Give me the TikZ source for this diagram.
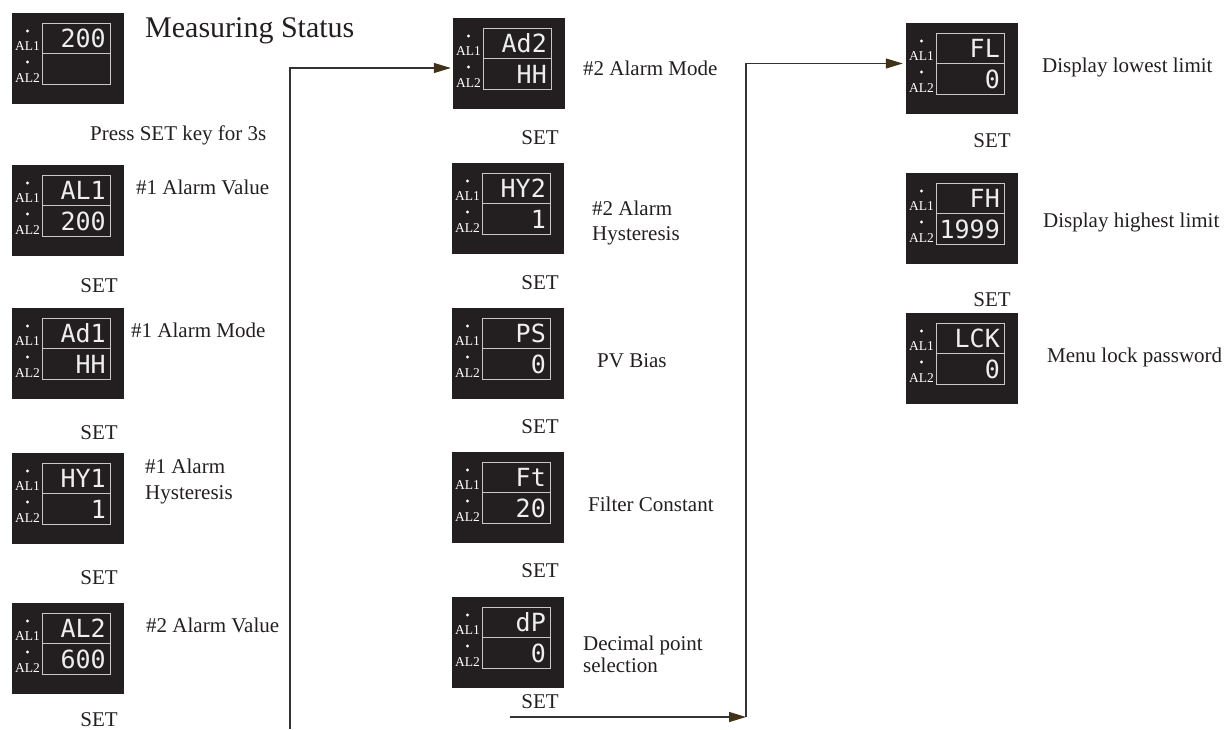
\documentclass[tikz,border=0pt]{standalone}
\usepackage{fontspec}
\setmainfont{Liberation Serif}
\newfontfamily\segfont{DejaVu Sans Mono}
\usetikzlibrary{arrows.meta,calc}
\definecolor{ink}{HTML}{231F20}
\definecolor{lcdbg}{HTML}{231F20}
\definecolor{lcdedge}{HTML}{C8C8C8}
\definecolor{segc}{HTML}{EEEEEE}
\definecolor{arrowc}{HTML}{3F3218}
\definecolor{linec}{HTML}{333333}
\tikzset{
  lcdbody/.style={draw=none,fill=lcdbg,minimum width=112pt,minimum height=91pt,inner sep=0pt},
  lcdframe/.style={draw=lcdedge,line width=0.9pt},
  altext/.style={anchor=base,text=white,inner sep=0pt,font=\fontsize{13.5}{14}\selectfont},
  segtext/.style={anchor=base east,text=segc,inner sep=0pt,font=\segfont\fontsize{25}{25}\selectfont},
  lbl/.style={anchor=base west,text=ink,inner sep=0pt,font=\fontsize{21}{22}\selectfont},
  setlbl/.style={anchor=base,text=ink,inner sep=0pt,font=\fontsize{21}{22}\selectfont},
  conn/.style={draw=linec,line width=1.2pt,-{Triangle[length=17pt,width=10pt,color=arrowc]}},
}
\newcommand\LCDunit[5]{%
  \node[lcdbody] (#1) at (#2+56,#3+45.5) {};
  \draw[lcdframe] (#2+30,#3+10) rectangle (#2+98,#3+71);
  \draw[lcdframe] (#2+30,#3+40.5) -- (#2+98,#3+40.5);
  \fill[white] (#2+15.5,#3+18) circle (1.7pt);
  \fill[white] (#2+15.5,#3+49) circle (1.7pt);
  \node[altext] (#1-a1) at (#2+15.5,#3+37) {AL1};
  \node[altext] (#1-a2) at (#2+15.5,#3+69) {AL2};
  \node[segtext] (#1-t) at (#2+94,#3+34.5) {#4};
  \node[segtext] (#1-b) at (#2+94,#3+65) {#5};
}
\begin{document}
\begin{tikzpicture}[x=1pt,y=-1pt]
\useasboundingbox (0,0) rectangle (1226,729);
% column 1
\LCDunit{p11}{12}{13}{200}{}
\LCDunit{p12}{12}{165}{AL1}{200}
\LCDunit{p13}{12}{308}{Ad1}{HH}
\LCDunit{p14}{12}{453}{HY1}{1}
\LCDunit{p15}{12}{603}{AL2}{600}
\node[anchor=base west,text=ink,inner sep=0pt,font=\fontsize{30}{32}\selectfont] (title) at (145,37) {Measuring Status};
\node[lbl] (l11) at (90,140) {Press SET key for 3s};
\node[lbl] (l12) at (136,194) {\#1 Alarm Value};
\node[setlbl] (s12) at (99,292) {SET};
\node[lbl] (l13) at (131,337) {\#1 Alarm Mode};
\node[setlbl] (s13) at (99,439) {SET};
\node[lbl] (l14a) at (145,473) {\#1 Alarm};
\node[lbl] (l14b) at (145,499) {Hysteresis};
\node[setlbl] (s14) at (99,584) {SET};
\node[lbl] (l15) at (146,632) {\#2 Alarm Value};
\node[setlbl] (s15) at (99,726) {SET};
% column 2
\LCDunit{p21}{453}{18}{Ad2}{HH}
\LCDunit{p22}{452}{163}{HY2}{1}
\LCDunit{p23}{452}{308}{PS}{0}
\LCDunit{p24}{452}{452}{Ft}{20}
\LCDunit{p25}{452}{597}{dP}{0}
\node[lbl] (l21) at (583,75) {\#2 Alarm Mode};
\node[setlbl] (s21) at (540,144) {SET};
\node[lbl] (l22a) at (592,215) {\#2 Alarm};
\node[lbl] (l22b) at (592,240) {Hysteresis};
\node[setlbl] (s22) at (540,289) {SET};
\node[lbl] (l23) at (597,367) {PV Bias};
\node[setlbl] (s23) at (540,433) {SET};
\node[lbl] (l24) at (588,511) {Filter Constant};
\node[setlbl] (s24) at (540,577) {SET};
\node[lbl] (l25a) at (583,650) {Decimal point};
\node[lbl] (l25b) at (583,672) {selection};
\node[setlbl] (s25) at (540,708) {SET};
% column 3
\LCDunit{p31}{906}{23}{FL}{0}
\LCDunit{p32}{906}{173}{FH}{1999}
\LCDunit{p33}{906}{313}{LCK}{0}
\node[lbl] (l31) at (1042,72) {Display lowest limit};
\node[setlbl] (s31) at (992,147) {SET};
\node[lbl] (l32) at (1043,227) {Display highest limit};
\node[setlbl] (s32) at (992,306) {SET};
\node[lbl] (l33) at (1047,362) {Menu lock password};
% connectors
\coordinate (c1s) at (290,729);
\draw[conn] (c1s) |- ($(p21.west)+(-2,4.5)$);
\coordinate (c2s) at (510,717);
\coordinate (c2c) at (746,717);
\draw[conn] (c2s) -- (c2c);
\draw[conn] (c2c) |- ($(p31.west)+(-3,-5)$);
\end{tikzpicture}
\end{document}
